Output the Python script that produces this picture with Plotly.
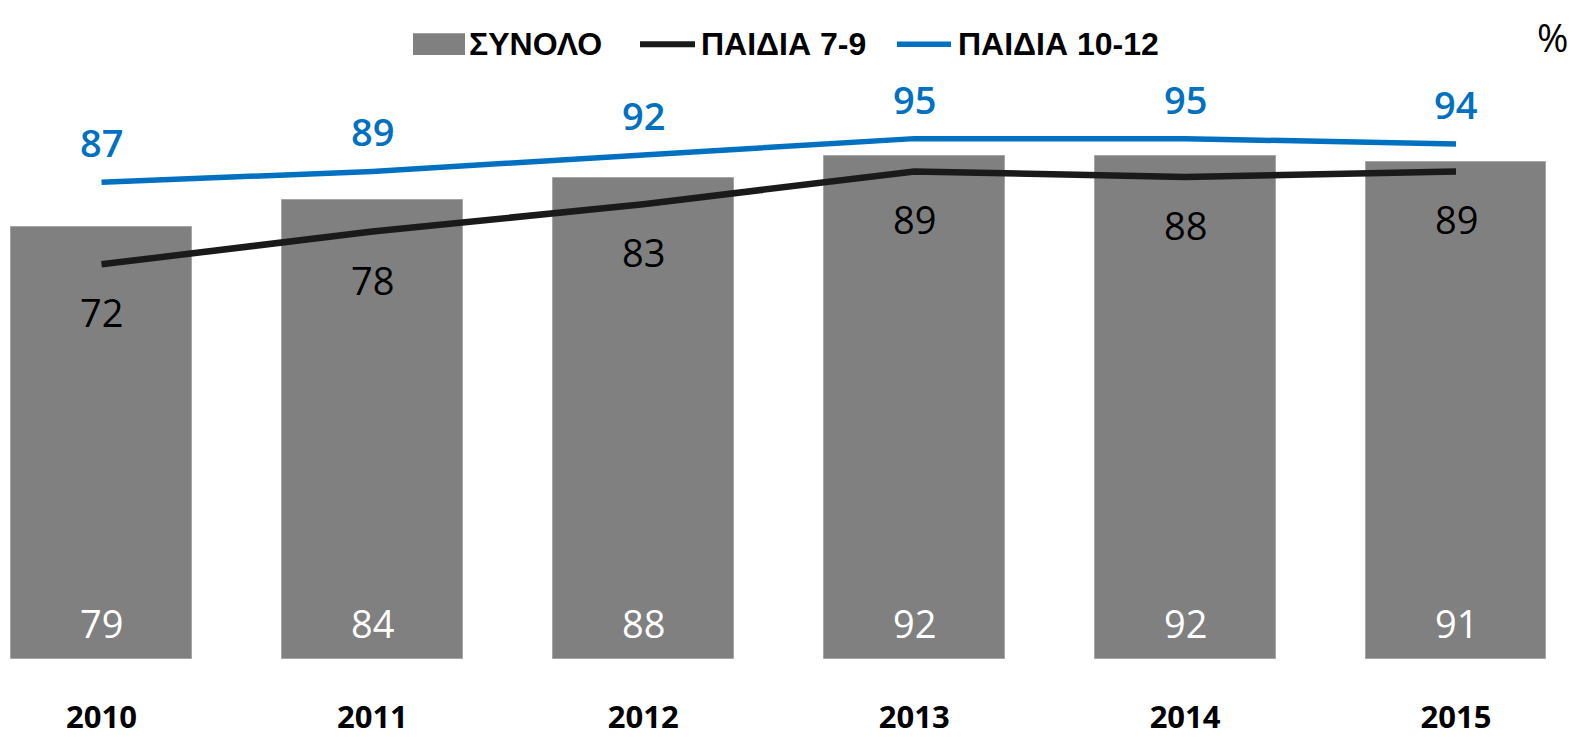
import plotly.graph_objects as go

years = ["2010", "2011", "2012", "2013", "2014", "2015"]
total = [79, 84, 88, 92, 92, 91]
kids_7_9 = [72, 78, 83, 89, 88, 89]
kids_10_12 = [87, 89, 92, 95, 95, 94]
series_names = ["ΣΥΝΟΛΟ", "ΠΑΙΔΙΑ 7-9", "ΠΑΙΔΙΑ 10-12"]

LBL_FONT = "Open Sans"
LEG_FONT = "Liberation Sans"
GRAY = "#808080"
BLACK = "#1a1a1a"
BLUE = "#0070C0"

# figure geometry (page body offsets the figure horizontally)
OFF = 8
W, H = 1585 - OFF, 737 - OFF
T, B = 52, 71
PH = H - T - B


def px(sx):
    return (sx - OFF) / W


def py(sy):
    return (H - B - sy) / PH


fig = go.Figure()
fig.add_trace(go.Bar(
    x=years, y=total, name=series_names[0], width=0.668,
    marker=dict(color=GRAY, line=dict(color="#a6a6a6", width=1)),
    yaxis="y", showlegend=False,
))
fig.add_trace(go.Scatter(
    x=years, y=kids_7_9, name=series_names[1], mode="lines",
    line=dict(color=BLACK, width=6.5), yaxis="y2", showlegend=False,
))
fig.add_trace(go.Scatter(
    x=years, y=kids_10_12, name=series_names[2], mode="lines",
    line=dict(color=BLUE, width=5.5), yaxis="y2", showlegend=False,
))

ann = []
for i, v in enumerate(total):
    ann.append(dict(x=i, y=0, xref="x", yref="y", text=str(v), showarrow=False,
                    yanchor="middle", yshift=36,
                    font=dict(family=LBL_FONT, size=38, color="white")))
for i, v in enumerate(kids_7_9):
    ann.append(dict(x=i, y=v, xref="x", yref="y2", text=str(v), showarrow=False,
                    yanchor="middle", yshift=-48,
                    font=dict(family=LBL_FONT, size=38, color="black")))
for i, v in enumerate(kids_10_12):
    ann.append(dict(x=i, y=v, xref="x", yref="y2", text=str(v), showarrow=False,
                    yanchor="middle", yshift=40,
                    font=dict(family=LBL_FONT, size=38, color=BLUE, weight=600)))
ann.append(dict(x=px(1552), y=py(29), xref="paper", yref="paper", text="%", showarrow=False,
                xanchor="center", yanchor="middle",
                font=dict(family=LBL_FONT, size=38, color="black")))

# manual legend (large swatches as in the reference)
leg_y = 36
shapes = [
    dict(type="rect", xref="paper", yref="paper", x0=px(413), x1=px(465), y0=py(47), y1=py(25),
         fillcolor=GRAY, line=dict(width=0)),
    dict(type="line", xref="paper", yref="paper", x0=px(640), x1=px(695), y0=py(leg_y), y1=py(leg_y),
         line=dict(color=BLACK, width=6)),
    dict(type="line", xref="paper", yref="paper", x0=px(897), x1=px(951), y0=py(leg_y), y1=py(leg_y),
         line=dict(color=BLUE, width=5.5)),
]
for name, sx in zip(series_names, [467, 699, 956]):
    ann.append(dict(x=px(sx), y=py(leg_y), xref="paper", yref="paper", text=name, showarrow=False,
                    xanchor="left", yanchor="middle",
                    font=dict(family=LEG_FONT, size=32, color="black", weight="bold")))

R = PH / 5.53
off = -0.2
step = 270.9
x0 = -(101.5 - OFF) / step
x1 = x0 + W / step
fig.update_layout(
    width=W, height=H,
    margin=dict(l=0, r=0, t=T, b=B, pad=0),
    paper_bgcolor="white", plot_bgcolor="white",
    bargap=0,
    showlegend=False,
    xaxis=dict(type="category", range=[x0, x1], showgrid=False, zeroline=False,
               showline=False, ticks="outside", ticklen=31, tickcolor="rgba(0,0,0,0)",
               tickfont=dict(family=LBL_FONT, size=31, color="black", weight="bold")),
    yaxis=dict(range=[0, R], visible=False),
    yaxis2=dict(range=[off, R + off], visible=False, overlaying="y"),
    annotations=ann,
    shapes=shapes,
)

fig.write_html("out.html")
